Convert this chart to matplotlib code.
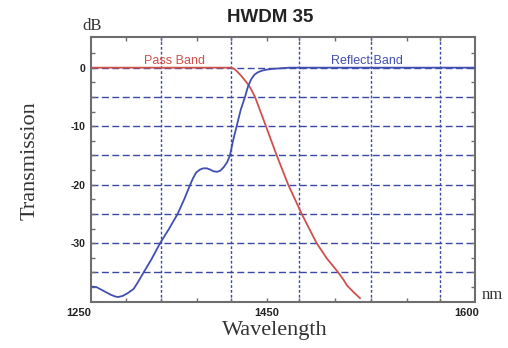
# HWDM 35 - pass band / reflect band transmission chart
import matplotlib.pyplot as plt

# Pass band (red) readings, wavelength nm -> dB
pass_nm = [1250, 1300, 1350, 1378, 1381, 1384, 1387, 1390, 1393, 1396, 1399.5,
           1404.5, 1409.5, 1419.3, 1429.8, 1442.1, 1455.7, 1465, 1475.4, 1480,
           1483.3, 1489, 1495.2]
pass_db = [0, 0, 0, 0, -0.25, -0.8, -1.4, -2.1, -2.8, -3.7, -5,
           -7.5, -10, -15, -20, -25, -30, -32.6, -35, -36.2,
           -37.2, -38.3, -39.4]

# Reflect band (blue) readings
refl_nm = [1250, 1255, 1261, 1268, 1272, 1275, 1279, 1283, 1289, 1293, 1298, 1305,
           1313, 1321, 1329, 1335, 1340, 1343, 1346, 1349.5, 1352.5, 1355.5, 1358.5,
           1361.5, 1365, 1368, 1371, 1374, 1376.7, 1379.5, 1382.8, 1386.5, 1390.4,
           1393, 1396, 1399, 1402, 1406, 1410, 1416, 1422, 1431, 1500, 1600]
refl_db = [-37.4, -37.5, -38.1, -38.8, -39.1, -39.2, -39.0, -38.6, -37.8, -36.6, -35, -32.8,
           -30, -27.6, -25, -22.5, -20.2, -18.9, -17.9, -17.4, -17.2, -17.2, -17.4,
           -17.7, -17.8, -17.6, -17.0, -16.2, -15, -12.5, -10, -7.2, -5,
           -3.3, -2.0, -1.2, -0.8, -0.5, -0.34, -0.2, -0.12, 0, 0, 0]

# grid positions (the original chart has uneven wavelength spacing)
grid_nm = [1313.5, 1377.6, 1439.6, 1505.2, 1568.1]
grid_db = [0, -5, -10, -15, -20, -25, -30, -35]
minor_nm = [1282, 1346.3, 1410.2, 1472.4, 1537.8]
ytick_db = [0, -10, -20, -30]
xtick_labels = ['1250', '1450', '1600']
xtick_pos = [-0.031, 0.458, 0.979]   # axes fraction, as placed in the original

red = '#d0504c'
blue = '#4150b0'
gridc = '#3a48a8'
framec = '#6e6e6e'

fig = plt.figure(figsize=(5.08, 3.48), dpi=100)
ax = fig.add_axes([0.179, 0.133, 0.756, 0.760])

for g in grid_db:
    ax.axhline(g, color=gridc, lw=1.0, dashes=(5, 2.5), zorder=1)
for g in grid_nm:
    ax.axvline(g, color=gridc, lw=1.0, dashes=(2, 1.5), zorder=1)

ax.plot(pass_nm, pass_db, color=red, lw=1.3, zorder=3)
ax.plot(refl_nm, refl_db, color=blue, lw=1.3, zorder=3)

ax.set_xlim(1250, 1600)
ax.set_ylim(-40, 5.2)

# ticks
ax.set_yticks(ytick_db)
ax.set_yticklabels([str(v) for v in ytick_db], fontsize=7.5, fontweight='bold',
                   family='Liberation Sans', color='#222222')
ax.set_yticks([-37.5, -35, -32.5, -27.5, -25, -22.5, -17.5, -15, -12.5, -7.5, -5, -2.5, 2.5],
              minor=True)
ax.set_xticks(grid_nm)
ax.set_xticks(minor_nm, minor=True)
ax.set_xticklabels([])
ax.tick_params(which='both', direction='in', length=3, width=1, color=framec,
               top=True, right=True, pad=4)

for s in ax.spines.values():
    s.set_color(framec)
    s.set_linewidth(1.5)

for lab, xp in zip(xtick_labels, xtick_pos):
    ax.text(xp, -0.043, lab, transform=ax.transAxes, ha='center', va='center',
            fontsize=8, fontweight='bold', family='Liberation Sans', color='#222222')

# band labels
ax.text(0.218, 0.91, 'Pass Band', transform=ax.transAxes, ha='center',
        va='center', fontsize=9, family='Liberation Sans', color=red)
ax.text(0.718, 0.91, 'Reflect Band', transform=ax.transAxes, ha='center',
        va='center', fontsize=9, family='Liberation Sans', color=blue)

# titles and axis names
fig.text(270 / 508, 1 - 17 / 348, 'HWDM 35', ha='center', va='center', fontsize=13.5,
         fontweight='bold', family='Liberation Sans', color='#222222')
fig.text(92 / 508, 1 - 26 / 348, 'dB', ha='center', va='center', fontsize=12,
         family='Liberation Serif', color='#333333')
fig.text(492 / 508, 1 - 295 / 348, 'nm', ha='center', va='center', fontsize=12,
         family='Liberation Serif', color='#333333')
fig.text(30 / 508, 1 - 161 / 348, 'Transmission', ha='center', va='center', rotation=90,
         fontsize=16, family='Liberation Serif', color='#333333')
fig.text(275 / 508, 1 - 331 / 348, 'Wavelength', ha='center', va='center', fontsize=16,
         family='Liberation Serif', color='#333333')

fig.savefig('out.png', dpi=100)
